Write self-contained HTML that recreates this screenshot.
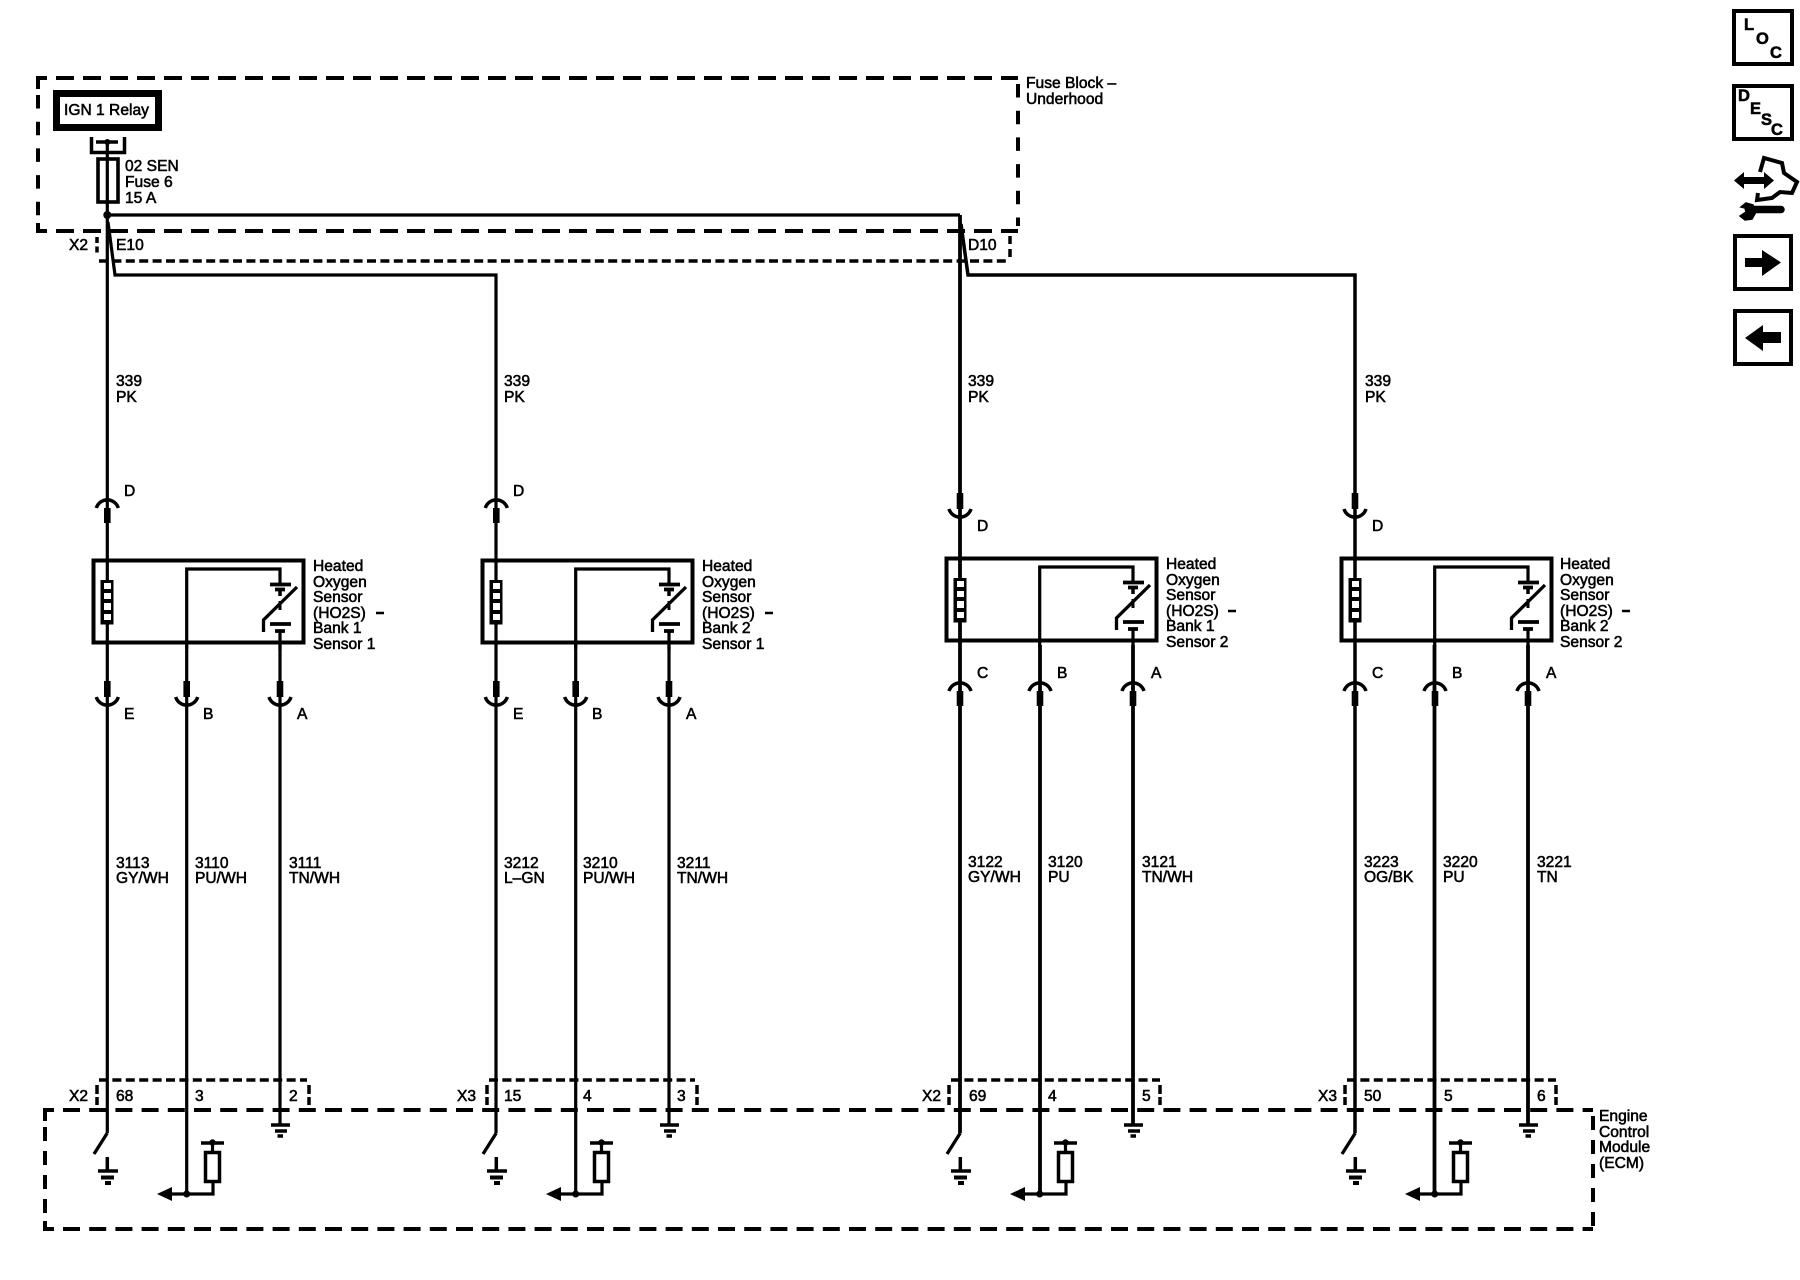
<!DOCTYPE html>
<html><head><meta charset="utf-8"><style>
html,body{margin:0;padding:0;background:#fff}
svg{display:block}
text{font-family:"Liberation Sans",sans-serif;font-size:15.6px;fill:#000;stroke:#000;stroke-width:.55px}
.w{stroke:#000;stroke-width:3.2;fill:none}
</style></head><body>
<svg width="1800" height="1280" viewBox="0 0 1800 1280" xmlns="http://www.w3.org/2000/svg">
<defs>
<g id="sensor">
<rect x="93.500" y="560.500" width="210" height="82" fill="none" stroke="#000" stroke-width="4"/>
<rect x="100.500" y="580" width="13" height="44.500" fill="#000"/>
<g fill="#fff"><rect x="104" y="583" width="7" height="6"/><rect x="104" y="593" width="7" height="6"/><rect x="104" y="603" width="7" height="7"/><rect x="104" y="614" width="7" height="6"/></g>
<path class="w" d="M186.700 649V569H280V584"/>
<path d="M270 584.500H291M275 589.500H285" stroke="#000" stroke-width="3.800" fill="none"/>
<path d="M280 589V596" stroke="#000" stroke-width="3.500"/>
<path d="M297 587L263.500 620V632" stroke="#000" stroke-width="3.300" fill="none"/>
<path d="M280 601V610" stroke="#000" stroke-width="3"/>
<path d="M270 624H291M275 631H285" stroke="#000" stroke-width="3.800" fill="none"/>
<path d="M280 631V650" class="w"/>
</g>
<g id="capUp"><path d="M-11 11A11.500 11.500 0 0 1 11 11" fill="none" stroke="#000" stroke-width="3.500"/><rect x="-3.300" y="11" width="6.600" height="15"/></g>
<g id="capDn"><rect x="-3.300" y="-26" width="6.600" height="16"/><path d="M-11 -10A11.500 11.500 0 0 0 11 -10" fill="none" stroke="#000" stroke-width="3.500"/></g>
<g id="bot">
<path d="M107.300 1133L94 1154" stroke="#000" stroke-width="3.300" fill="none"/>
<path d="M107.300 1157V1171M98 1171H118" stroke="#000" stroke-width="3.500" fill="none"/>
<path d="M101 1177.500H114M105 1183H111" stroke="#000" stroke-width="4" fill="none"/>
<path d="M172 1194H213V1181" class="w"/>
<path d="M157 1194L172 1187V1201Z"/>
<circle cx="186.700" cy="1194" r="3.500"/>
<rect x="205.500" y="1152.500" width="14" height="29" fill="#fff" stroke="#000" stroke-width="3.500"/>
<path d="M212.500 1143V1152" class="w"/>
<path d="M201 1143H224" stroke="#000" stroke-width="3.500"/>
<circle cx="212.500" cy="1142.500" r="3.200"/>
<path d="M271 1125H290" stroke="#000" stroke-width="3.500"/>
<path d="M275 1131H287M277.500 1136H283" stroke="#000" stroke-width="3.500" fill="none"/>
</g>
</defs>

<!-- Fuse block dashed -->
<g stroke="#000" stroke-width="4" fill="none">
<path d="M38 89V78H47"/>
<path d="M56 78H1018" stroke-dasharray="18 9"/>
<path d="M38 95V222" stroke-dasharray="13.500 13.200"/>
<path d="M38 223V231H47"/>
<path d="M56 231H1018" stroke-dasharray="18 9"/>
<path d="M1018 84V226" stroke-dasharray="13.500 13.200"/>
</g>
<!-- X2 header dashed -->
<g stroke="#000" stroke-width="3.500" fill="none">
<path d="M99 261H1010" stroke-dasharray="9 4.400"/>
<path d="M97 237V255" stroke-dasharray="6 3.500"/>
<path d="M1010 236V258" stroke-dasharray="8 5"/>
</g>
<!-- IGN relay -->
<rect x="56.500" y="93.500" width="102" height="34" fill="#fff" stroke="#000" stroke-width="7"/>
<text x="64" y="115">IGN 1 Relay</text>
<path d="M91.500 137V152.500H124.500V137" fill="none" stroke="#000" stroke-width="3.500"/>
<path d="M96 142H118" stroke="#000" stroke-width="3.500"/>
<circle cx="107.300" cy="142" r="3"/>
<rect x="98" y="159" width="20" height="43" fill="none" stroke="#000" stroke-width="3.600"/>
<text x="125" y="171">02 SEN</text><text x="125" y="187">Fuse 6</text><text x="125" y="203">15 A</text>
<text x="1026" y="88">Fuse Block –</text><text x="1026" y="104">Underhood</text>
<circle cx="107.300" cy="215" r="4"/>
<path class="w" d="M107.300 215H960"/>
<text x="69" y="250">X2</text><text x="116" y="250">E10</text><text x="968" y="250">D10</text>

<!-- main wires -->
<path class="w" d="M107.300 142V1133"/>
<path class="w" d="M108 222L115 275H496V1133"/>
<path d="M960 215V1133" stroke="#000" stroke-width="3.800" fill="none"/>
<path d="M961 224L968 275H1355V1133" stroke="#000" stroke-width="3.500" fill="none"/>
<path class="w" d="M186.700 645V1194"/><path class="w" d="M280 645V1124"/>
<path class="w" d="M575.700 645V1194"/><path class="w" d="M669 645V1124"/>
<path d="M1040 645V1194M1133 645V1124M1434.500 645V1194M1528 645V1124" stroke="#000" stroke-width="3.800" fill="none"/>

<use href="#sensor"/>
<use href="#sensor" transform="translate(389 0)"/>
<use href="#sensor" transform="translate(853 -2)"/>
<use href="#sensor" transform="translate(1248 -2)"/>

<!-- connectors -->
<use href="#capUp" x="107.300" y="497"/><use href="#capUp" x="496.300" y="497"/>
<use href="#capDn" x="960" y="519"/><use href="#capDn" x="1355" y="519"/>
<use href="#capDn" x="107.300" y="707"/><use href="#capDn" x="186.700" y="707"/><use href="#capDn" x="280" y="707"/>
<use href="#capDn" x="496.300" y="707"/><use href="#capDn" x="575.700" y="707"/><use href="#capDn" x="669" y="707"/>
<use href="#capUp" x="960" y="680"/><use href="#capUp" x="1040" y="680"/><use href="#capUp" x="1133" y="680"/>
<use href="#capUp" x="1355" y="680"/><use href="#capUp" x="1435" y="680"/><use href="#capUp" x="1528" y="680"/>

<!-- sensor labels -->
<g id="l1">
<text x="313" y="571">Heated</text><text x="313" y="587">Oxygen</text><text x="313" y="602">Sensor</text><text x="313" y="618">(HO2S)</text><text x="313" y="633">Bank 1</text><text x="313" y="649">Sensor 1</text>
<text x="702" y="571">Heated</text><text x="702" y="587">Oxygen</text><text x="702" y="602">Sensor</text><text x="702" y="618">(HO2S)</text><text x="702" y="633">Bank 2</text><text x="702" y="649">Sensor 1</text>
<text x="1166" y="569">Heated</text><text x="1166" y="585">Oxygen</text><text x="1166" y="600">Sensor</text><text x="1166" y="616">(HO2S)</text><text x="1166" y="631">Bank 1</text><text x="1166" y="647">Sensor 2</text>
<text x="1560" y="569">Heated</text><text x="1560" y="585">Oxygen</text><text x="1560" y="600">Sensor</text><text x="1560" y="616">(HO2S)</text><text x="1560" y="631">Bank 2</text><text x="1560" y="647">Sensor 2</text>
</g>
<path d="M376 613H384M765 613H773M1228 611H1236M1622 611H1630" stroke="#000" stroke-width="2.500"/>

<!-- pin letters -->
<text x="124" y="496">D</text><text x="513" y="496">D</text><text x="977" y="531">D</text><text x="1372" y="531">D</text>
<text x="124" y="719">E</text><text x="203" y="719">B</text><text x="297" y="719">A</text>
<text x="513" y="719">E</text><text x="592" y="719">B</text><text x="686" y="719">A</text>
<text x="977" y="678">C</text><text x="1057" y="678">B</text><text x="1151" y="678">A</text>
<text x="1372" y="678">C</text><text x="1452" y="678">B</text><text x="1546" y="678">A</text>

<!-- wire labels -->
<text x="116" y="386">339</text><text x="116" y="402">PK</text>
<text x="504" y="386">339</text><text x="504" y="402">PK</text>
<text x="968" y="386">339</text><text x="968" y="402">PK</text>
<text x="1365" y="386">339</text><text x="1365" y="402">PK</text>

<text x="116" y="868">3113</text><text x="116" y="883">GY/WH</text>
<text x="195" y="868">3110</text><text x="195" y="883">PU/WH</text>
<text x="289" y="868">3111</text><text x="289" y="883">TN/WH</text>
<text x="504" y="868">3212</text><text x="504" y="883">L–GN</text>
<text x="583" y="868">3210</text><text x="583" y="883">PU/WH</text>
<text x="677" y="868">3211</text><text x="677" y="883">TN/WH</text>
<text x="968" y="867">3122</text><text x="968" y="882">GY/WH</text>
<text x="1048" y="867">3120</text><text x="1048" y="882">PU</text>
<text x="1142" y="867">3121</text><text x="1142" y="882">TN/WH</text>
<text x="1364" y="867">3223</text><text x="1364" y="882">OG/BK</text>
<text x="1443" y="867">3220</text><text x="1443" y="882">PU</text>
<text x="1537" y="867">3221</text><text x="1537" y="882">TN</text>

<!-- ECM header dashes -->
<g stroke="#000" stroke-width="3.500" fill="none">
<path d="M99 1080H307M489 1080H695M951 1080H1160M1347 1080H1556" stroke-dasharray="9 4.400"/>
<path d="M97 1085V1105M309 1085V1105M487 1085V1105M697 1085V1105M949 1085V1105M1160 1085V1105M1345 1085V1105M1556 1085V1105" stroke-dasharray="9 3"/>
</g>
<text x="69" y="1101">X2</text><text x="116" y="1101">68</text><text x="195" y="1101">3</text><text x="289" y="1101">2</text>
<text x="457" y="1101">X3</text><text x="504" y="1101">15</text><text x="583" y="1101">4</text><text x="677" y="1101">3</text>
<text x="922" y="1101">X2</text><text x="969" y="1101">69</text><text x="1048" y="1101">4</text><text x="1142" y="1101">5</text>
<text x="1318" y="1101">X3</text><text x="1364" y="1101">50</text><text x="1444" y="1101">5</text><text x="1537" y="1101">6</text>

<!-- ECM dashed -->
<g stroke="#000" stroke-width="4" fill="none">
<path d="M45 1121V1110H54"/>
<path d="M63 1110H1593" stroke-dasharray="17 9.200"/>
<path d="M45 1127V1216" stroke-dasharray="14 10"/>
<path d="M45 1221V1229H54"/>
<path d="M63 1229H1593" stroke-dasharray="17 9.200"/>
<path d="M1593 1116V1226" stroke-dasharray="14 10"/>
</g>
<text x="1599" y="1121">Engine</text><text x="1599" y="1137">Control</text><text x="1599" y="1152">Module</text><text x="1599" y="1168">(ECM)</text>

<use href="#bot"/>
<use href="#bot" transform="translate(389 0)"/>
<use href="#bot" transform="translate(853 0)"/>
<use href="#bot" transform="translate(1248 0)"/>

<!-- side icons -->
<g fill="none" stroke="#000" stroke-width="4">
<rect x="1734" y="11" width="58" height="53"/>
<rect x="1734" y="86" width="58" height="53"/>
<rect x="1735" y="236" width="56" height="53"/>
<rect x="1735" y="311" width="56" height="53"/>
</g>
<text x="1744" y="30" style="font-weight:bold;font-size:16.500px">L</text>
<text x="1756" y="44" style="font-weight:bold;font-size:16.500px">O</text>
<text x="1770" y="58" style="font-weight:bold;font-size:16.500px">C</text>
<text x="1738" y="101" style="font-weight:bold;font-size:16.500px">D</text>
<text x="1750" y="114" style="font-weight:bold;font-size:16.500px">E</text>
<text x="1761" y="125" style="font-weight:bold;font-size:16.500px">S</text>
<text x="1771" y="135" style="font-weight:bold;font-size:16.500px">C</text>
<path d="M1745 258H1762V250L1781 262.500L1762 276V267H1745Z"/>
<path d="M1781 332H1763V325L1745 338L1763 351V343H1781Z"/>
<path d="M1734 180.500L1744 172V177H1764V172L1774 180.500L1764 189V184H1744V189Z"/>
<path d="M1760 172L1764 158L1782 163L1784 173L1797 182L1792 193L1780 192L1772 198L1757 200L1758 193" fill="none" stroke="#000" stroke-width="4"/>
<path d="M1752 209.500H1781" stroke="#000" stroke-width="7.500" stroke-linecap="round"/>
<path d="M1741 207L1746 203L1753 205L1756 212L1752 219L1745 220L1740 216L1746 212L1745 208Z" stroke="#000" stroke-width="1.500"/>
</svg>
</body></html>
